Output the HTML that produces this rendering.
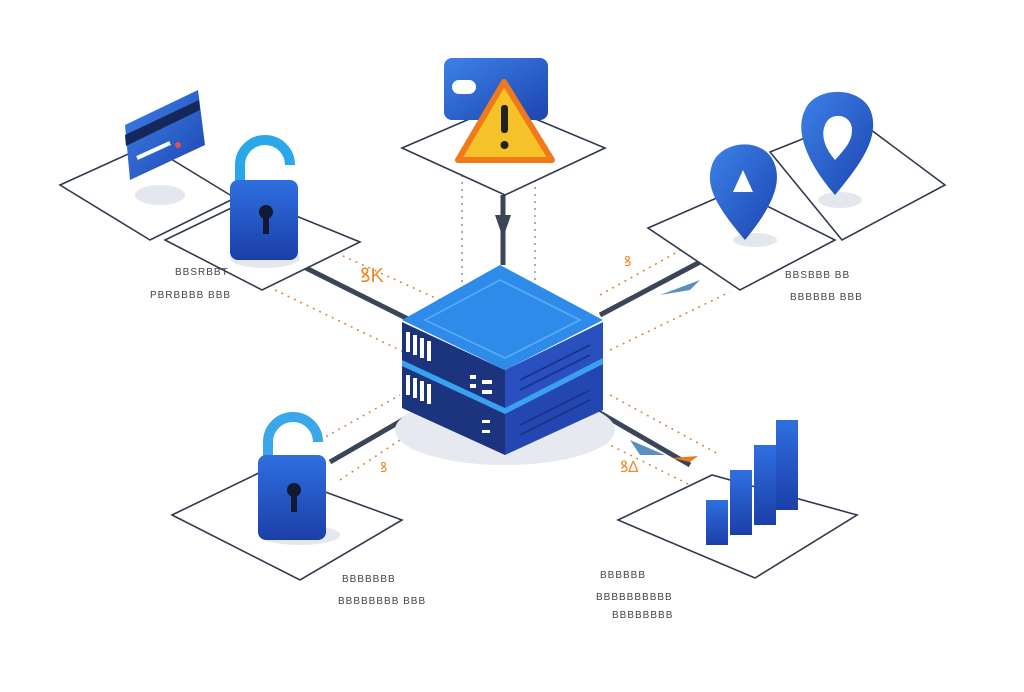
<!DOCTYPE html>
<html><head><meta charset="utf-8"><style>
html,body{margin:0;padding:0;background:#fff;}
svg{display:block;}
</style></head><body>
<svg width="1024" height="692" viewBox="0 0 1024 692" xmlns="http://www.w3.org/2000/svg" font-family="Liberation Sans, sans-serif">
<defs>
<linearGradient id="blu" x1="0" y1="0" x2="1" y2="1"><stop offset="0" stop-color="#3b82e8"/><stop offset="1" stop-color="#1e44b0"/></linearGradient>
<linearGradient id="lk" x1="0" y1="0" x2="0" y2="1"><stop offset="0" stop-color="#2f6fe0"/><stop offset="1" stop-color="#1b3fa8"/></linearGradient>
</defs>
<rect width="1024" height="692" fill="#fff"/>
<!-- thick connectors -->
<g stroke="#3a4558" stroke-width="5" fill="none">
<line x1="300" y1="265" x2="420" y2="325"/>
<line x1="503" y1="195" x2="503" y2="265"/>
<line x1="600" y1="315" x2="700" y2="262"/>
<line x1="330" y1="462" x2="420" y2="410"/>
<line x1="595" y1="410" x2="690" y2="465"/>
</g>
<polygon points="495,215 511,215 503,238" fill="#3a4558"/>
<!-- dotted lines -->
<g stroke="#d68a4a" stroke-width="1.6" stroke-dasharray="2,5" fill="none">
<line x1="275" y1="290" x2="410" y2="355"/>
<line x1="330" y1="250" x2="440" y2="300"/>
<line x1="600" y1="295" x2="690" y2="245"/>
<line x1="610" y1="350" x2="730" y2="292"/>
<line x1="320" y1="440" x2="400" y2="395"/>
<line x1="340" y1="480" x2="430" y2="420"/>
<line x1="580" y1="430" x2="700" y2="490"/>
<line x1="610" y1="395" x2="720" y2="455"/>
</g>
<g stroke="#888" stroke-width="1.4" stroke-dasharray="2,5">
<line x1="462" y1="175" x2="462" y2="300"/>
<line x1="535" y1="180" x2="535" y2="290"/>
</g>
<!-- plates -->
<g fill="#fff" stroke="#2f3a4e" stroke-width="1.6">
<polygon points="60,185 148,145 235,198 150,240"/>
<polygon points="165,240 252,198 360,242 262,290"/>
<polygon points="402,148 502,105 605,148 505,195"/>
<polygon points="648,228 735,190 835,240 740,290"/>
<polygon points="770,152 855,118 945,185 842,240"/>
<polygon points="172,515 265,470 402,520 300,580"/>
<polygon points="618,520 712,475 857,515 755,578"/>
</g>
<!-- card icon -->
<ellipse cx="160" cy="195" rx="25" ry="10" fill="#e3e8ef"/>
<polygon points="125,125 198,90 205,145 130,180" fill="url(#blu)"/>
<polygon points="125,135 199,100 200,110 126,146" fill="#16285a"/>
<line x1="137" y1="158" x2="170" y2="143" stroke="#fff" stroke-width="4"/>
<circle cx="178" cy="145" r="3" fill="#e05050"/>
<!-- lock top-left -->
<ellipse cx="265" cy="258" rx="35" ry="10" fill="#e3e8ef"/>
<path d="M240,185 v-20 a25,25 0 0 1 50,0" stroke="#2aa7e8" stroke-width="10" fill="none"/>
<rect x="230" y="180" width="68" height="80" rx="8" fill="url(#lk)"/>
<circle cx="266" cy="212" r="7" fill="#111a33"/><rect x="263" y="214" width="6" height="20" fill="#111a33"/>
<!-- card + warning -->
<rect x="444" y="58" width="104" height="62" rx="8" fill="url(#blu)"/>
<rect x="452" y="80" width="24" height="14" rx="7" fill="#fff"/>
<polygon points="504,82 458,160 552,160" fill="#f6c22a" stroke="#f07a1a" stroke-width="6" stroke-linejoin="round"/>
<rect x="501" y="105" width="7" height="28" rx="3" fill="#222"/><circle cx="504.5" cy="145" r="4" fill="#222"/>
<!-- pins -->
<ellipse cx="755" cy="240" rx="22" ry="7" fill="#e3e8ef"/>
<path d="M745,240 C715,205 705,185 712,165 C720,140 765,135 775,165 C782,185 770,210 745,240Z" fill="url(#blu)"/>
<polygon points="743,170 733,192 753,192" fill="#fff"/>
<ellipse cx="840" cy="200" rx="22" ry="8" fill="#e3e8ef"/>
<path d="M835,195 C805,160 795,130 805,110 C815,85 865,85 872,115 C878,140 860,165 835,195Z" fill="url(#blu)"/>
<path d="M835,160 C822,145 820,130 828,120 C836,112 852,116 852,130 C852,142 844,150 835,160Z" fill="#fff"/>
<!-- server -->
<ellipse cx="505" cy="430" rx="110" ry="35" fill="#e6eaf0"/>
<polygon points="402,365 505,412 505,455 402,408" fill="#1c347e"/>
<polygon points="505,412 603,362 603,410 505,455" fill="#2446b0"/>
<polygon points="402,322 505,370 505,412 402,365" fill="#1c347e"/>
<polygon points="505,370 603,322 603,362 505,412" fill="#2a50c0"/>
<polygon points="402,360 505,408 603,358 603,364 505,414 402,366" fill="#3aa0f0"/>
<polygon points="402,320 500,265 603,320 505,370" fill="#2f8bea"/>
<polygon points="425,320 500,280 580,320 505,358" fill="none" stroke="#5ab0f6" stroke-width="1.5"/>
<g fill="#fff"><rect x="406" y="332" width="4" height="20"/><rect x="413" y="335" width="4" height="20"/><rect x="420" y="338" width="4" height="20"/><rect x="427" y="341" width="4" height="20"/>
<rect x="406" y="375" width="4" height="20"/><rect x="413" y="378" width="4" height="20"/><rect x="420" y="381" width="4" height="20"/><rect x="427" y="384" width="4" height="20"/>
<rect x="470" y="375" width="6" height="4"/><rect x="482" y="380" width="10" height="4"/><rect x="470" y="384" width="6" height="4"/><rect x="482" y="390" width="10" height="4"/>
<rect x="482" y="420" width="8" height="3"/><rect x="482" y="430" width="8" height="3"/></g>
<g stroke="#1a3590" stroke-width="2"><line x1="520" y1="380" x2="590" y2="345"/><line x1="520" y1="390" x2="590" y2="355"/><line x1="520" y1="425" x2="590" y2="390"/><line x1="520" y1="435" x2="590" y2="400"/></g>
<!-- small arrows/orange marks -->
<polygon points="660,295 700,280 690,290" fill="#5b8fc0"/>
<polygon points="630,440 665,455 640,455" fill="#5b8fc0"/>
<polygon points="672,458 698,456 690,462" fill="#f07a1a"/>
<text x="360" y="282" font-size="20" fill="#f08a2a">ꝸK</text>
<text x="624" y="266" font-size="14" fill="#f08a2a">ꝸ</text>
<text x="380" y="472" font-size="14" fill="#f08a2a">ꝸ</text>
<text x="620" y="472" font-size="16" fill="#f08a2a">ꝸ∆</text>
<!-- lock bottom-left -->
<ellipse cx="300" cy="535" rx="40" ry="10" fill="#e3e8ef"/>
<path d="M268,460 v-18 a25,25 0 0 1 50,0" stroke="#3aa7e8" stroke-width="10" fill="none"/>
<rect x="258" y="455" width="68" height="85" rx="8" fill="url(#lk)"/>
<circle cx="294" cy="490" r="7" fill="#111a33"/><rect x="291" y="492" width="6" height="20" fill="#111a33"/>
<!-- bar chart -->
<g fill="url(#lk)"><rect x="706" y="500" width="22" height="45"/><rect x="730" y="470" width="22" height="65"/><rect x="754" y="445" width="22" height="80"/><rect x="776" y="420" width="22" height="90"/></g>
<!-- labels -->
<g font-size="10" fill="#444" letter-spacing="1">
<text x="175" y="275">BBSRBBT</text><text x="150" y="298">PBRBBBB BBB</text>
<text x="785" y="278">BBSBBB BB</text><text x="790" y="300">BBBBBB BBB</text>
<text x="342" y="582">BBBBBBB</text><text x="338" y="604">BBBBBBBB BBB</text>
<text x="600" y="578">BBBBBB</text><text x="596" y="600">BBBBBBBBBB</text><text x="612" y="618">BBBBBBBB</text>
</g>
</svg>
</body></html>
